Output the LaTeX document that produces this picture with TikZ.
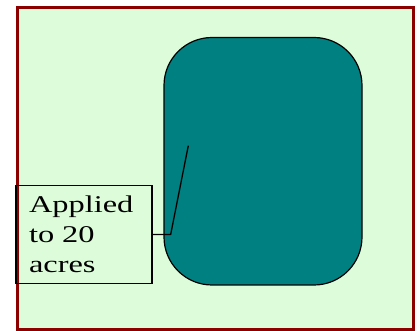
\documentclass[tikz,border=0pt]{standalone}
\usepackage{fontspec}
\newfontfamily\calloutfont[FakeStretch=1.35]{Liberation Serif}
\definecolor{fieldgreen}{RGB}{221,252,218}
\definecolor{framered}{RGB}{140,0,0}
\definecolor{plotteal}{RGB}{0,128,128}
\tikzset{
  framebox/.style={draw=framered, line width=3pt, fill=fieldgreen},
  plotbox/.style={draw=black, line width=1.2pt, fill=plotteal, rounded corners=48pt,
    minimum width=198pt, minimum height=247.5pt, inner sep=0pt},
  calloutbox/.style={draw=black, line width=1.3pt, minimum width=136pt, minimum height=98pt,
    inner xsep=13pt, inner ysep=0pt, text width=110pt, align=left,
    font=\calloutfont\fontsize{24pt}{30pt}\selectfont},
  calloutline/.style={draw=black, line width=1.3pt}
}
\begin{document}
\begin{tikzpicture}[x=1pt,y=-1pt]
  \useasboundingbox (0,0) rectangle (418,331);
  \node[framebox, minimum width=396pt, minimum height=322pt, inner sep=0pt] (frame) at (215.25,168.5) {};
  \node[plotbox] (field) at (263,161.25) {};
  \node[calloutbox] (lbl) at (84,234.5) {Applied\\to 20\\acres};
  \coordinate (tip) at (188.3,145.7);
  \draw[calloutline] (lbl.east) -- ++(18,0) -- (tip);
\end{tikzpicture}
\end{document}
